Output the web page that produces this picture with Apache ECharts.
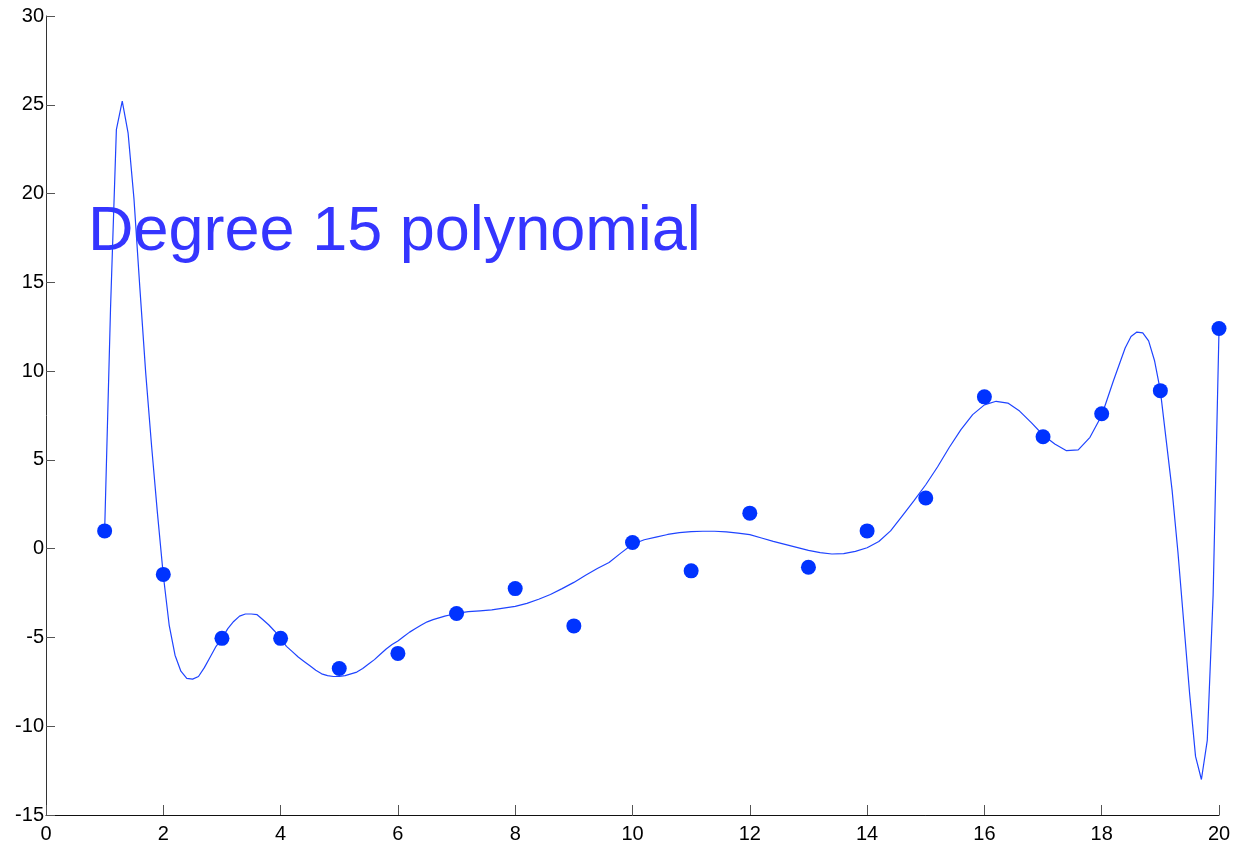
<!DOCTYPE html>
<html>
<head>
<meta charset="utf-8">
<title>Degree 15 polynomial</title>
<script src="https://cdn.jsdelivr.net/npm/echarts@6/dist/echarts.min.js"></script>
<style>
  html, body { margin: 0; padding: 0; background: #fff; }
  #chart { width: 1241px; height: 848px; }
</style>
</head>
<body>
<div id="chart"></div>
<script>
// Observed samples
const sampleX = [1, 2, 3, 4, 5, 6, 7, 8, 9, 10, 11, 12, 13, 14, 15, 16, 17, 18, 19, 20];
const sampleY = [1.0, -1.45, -5.05, -5.05, -6.75, -5.9, -3.65, -2.25, -4.35, 0.35,
                 -1.25, 2.0, -1.05, 1.0, 2.85, 8.55, 6.3, 7.6, 8.9, 12.4];

// Fitted degree-15 polynomial, evaluated along x
const fitX = [1.0, 1.1, 1.2, 1.3, 1.4, 1.5, 1.6, 1.7, 1.8, 1.9,
              2.0, 2.1, 2.2, 2.3, 2.4, 2.5, 2.6, 2.7, 2.8, 2.9,
              3.0, 3.1, 3.2, 3.3, 3.4, 3.5, 3.6, 3.7, 3.8, 3.9,
              4.0, 4.1, 4.2, 4.3, 4.4, 4.5, 4.6, 4.7, 4.8, 4.9,
              5.0, 5.1, 5.2, 5.3, 5.4, 5.5, 5.6, 5.7, 5.8, 5.9,
              6.0, 6.1, 6.2, 6.3, 6.4, 6.5, 6.6, 6.7, 6.8, 6.9,
              7.0, 7.2, 7.4, 7.6, 7.8, 8.0, 8.2, 8.4, 8.6, 8.8,
              9.0, 9.2, 9.4, 9.6, 9.8, 10.0, 10.2, 10.4, 10.6, 10.8,
              11.0, 11.2, 11.4, 11.6, 11.8, 12.0, 12.2, 12.4, 12.6, 12.8,
              13.0, 13.2, 13.4, 13.6, 13.8, 14.0, 14.2, 14.4, 14.6, 14.8,
              15.0, 15.2, 15.4, 15.6, 15.8, 16.0, 16.2, 16.4, 16.6, 16.8,
              17.0, 17.2, 17.4, 17.6, 17.8, 18.0, 18.2, 18.4, 18.5, 18.6,
              18.7, 18.8, 18.9, 19.0, 19.1, 19.2, 19.3, 19.4, 19.5, 19.6,
              19.7, 19.8, 19.9, 20.0];
const fitY = [1.0, 13.5, 23.6, 25.2, 23.4, 19.7, 14.7, 9.9, 5.8, 2.0,
              -1.5, -4.3, -6.0, -6.9, -7.3, -7.35, -7.2, -6.7, -6.1, -5.5,
              -5.05, -4.5, -4.1, -3.8, -3.68, -3.68, -3.72, -4.0, -4.3, -4.65,
              -5.05, -5.5, -5.8, -6.1, -6.35, -6.6, -6.85, -7.05, -7.15, -7.2,
              -7.2, -7.15, -7.05, -6.95, -6.75, -6.5, -6.25, -5.95, -5.65, -5.4,
              -5.2, -4.95, -4.7, -4.5, -4.3, -4.12, -4.0, -3.9, -3.8, -3.72,
              -3.64, -3.55, -3.5, -3.45, -3.35, -3.25, -3.08, -2.85, -2.58, -2.25,
              -1.9, -1.5, -1.12, -0.78, -0.25, 0.25, 0.5, 0.65, 0.8, 0.9,
              0.96, 0.98, 0.98, 0.95, 0.88, 0.79, 0.6, 0.41, 0.24, 0.07,
              -0.1, -0.22, -0.3, -0.28, -0.15, 0.05, 0.4, 1.0, 1.85, 2.7,
              3.6, 4.6, 5.7, 6.7, 7.55, 8.1, 8.3, 8.2, 7.75, 7.1,
              6.4, 5.9, 5.52, 5.56, 6.27, 7.5, 9.46, 11.3, 11.95, 12.2,
              12.15, 11.7, 10.6, 8.9, 6.1, 3.3, -0.2, -4.2, -8.2, -11.7,
              -13.0, -10.8, -2.6, 12.3];

const xTicks = { min: 0, max: 20, interval: 2 };
const yTicks = { min: -15, max: 30, interval: 5 };
const labelText = 'Degree 15 polynomial';

const chart = echarts.init(document.getElementById('chart'), null, { renderer: 'canvas' });

const axisFont = { fontFamily: '"Liberation Sans", Arial, sans-serif', fontSize: 20, color: '#000' };

chart.setOption({
  animation: false,
  backgroundColor: '#fff',
  grid: { left: 46, right: 22, top: 16, bottom: 33, containLabel: false },
  xAxis: {
    type: 'value',
    min: xTicks.min, max: xTicks.max, interval: xTicks.interval,
    axisLine: { show: true, onZero: false, lineStyle: { color: '#111', width: 1 } },
    axisTick: { show: true, inside: true, length: 10, lineStyle: { color: '#555', width: 1 } },
    axisLabel: Object.assign({ margin: 9 }, axisFont),
    splitLine: { show: false }
  },
  yAxis: {
    type: 'value',
    min: yTicks.min, max: yTicks.max, interval: yTicks.interval,
    axisLine: { show: true, onZero: false, lineStyle: { color: '#333', width: 1 } },
    axisTick: { show: true, inside: true, length: 9, lineStyle: { color: '#555', width: 1 } },
    axisLabel: Object.assign({ margin: 2 }, axisFont),
    splitLine: { show: false }
  },
  graphic: [{
    type: 'text',
    left: 88,
    top: 201,
    style: {
      text: labelText,
      font: '63px "Liberation Sans", Arial, sans-serif',
      fill: '#3535ff'
    }
  }],
  series: [
    {
      type: 'line',
      data: fitX.map((x, i) => [x, fitY[i]]),
      showSymbol: false,
      smooth: false,
      lineStyle: { color: '#1f44ff', width: 1.2 },
      z: 2
    },
    {
      type: 'scatter',
      data: sampleX.map((x, i) => [x, sampleY[i]]),
      symbol: 'circle',
      symbolSize: 15,
      itemStyle: { color: '#0033ff', opacity: 1 },
      z: 3
    }
  ]
});
</script>
</body>
</html>
